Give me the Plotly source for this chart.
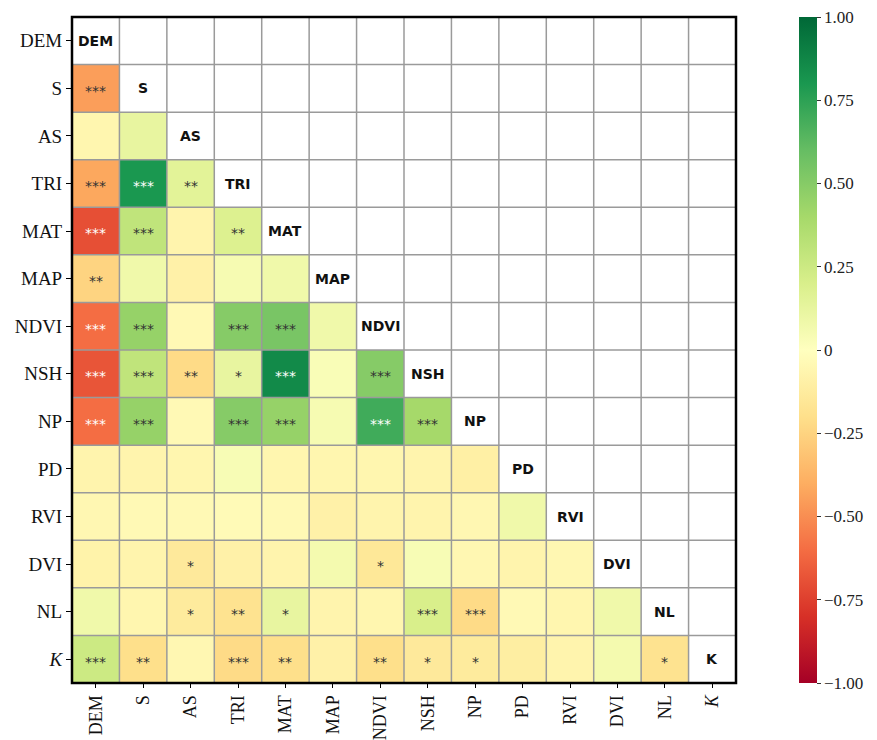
import numpy as np
import plotly.graph_objects as go

labels = ["DEM", "S", "AS", "TRI", "MAT", "MAP", "NDVI", "NSH", "NP", "PD", "RVI", "DVI", "NL", "K"]
tick_text = ["DEM", "S", "AS", "TRI", "MAT", "MAP", "NDVI", "NSH", "NP", "PD", "RVI", "DVI", "NL", "<i>K</i>"]

# Lower-triangle correlation coefficients, one row per variable (columns before the diagonal)
corr_rows = [
    [],
    [-0.45],
    [-0.06, 0.12],
    [-0.42, 0.80, 0.15],
    [-0.70, 0.30, -0.07, 0.18],
    [-0.25, 0.08, -0.09, 0.05, 0.08],
    [-0.60, 0.45, -0.04, 0.50, 0.54, 0.08],
    [-0.68, 0.30, -0.22, 0.12, 0.86, 0.03, 0.50],
    [-0.60, 0.45, -0.04, 0.50, 0.45, 0.05, 0.70, 0.40],
    [-0.07, -0.07, -0.06, 0.04, -0.06, -0.06, -0.06, -0.07, -0.10],
    [-0.05, -0.04, -0.04, -0.03, -0.04, -0.09, -0.07, -0.07, -0.05, 0.08],
    [-0.08, -0.07, -0.14, -0.09, -0.07, 0.06, -0.15, 0.04, -0.05, -0.07, -0.05],
    [0.08, -0.06, -0.13, -0.18, 0.12, -0.07, -0.06, 0.20, -0.22, -0.04, -0.06, 0.08],
    [0.25, -0.20, -0.05, -0.22, -0.20, -0.09, -0.20, -0.14, -0.13, -0.11, -0.07, 0.06, -0.18],
]

# Significance marks for the same lower-triangle cells
sig_rows = [
    [],
    ["***"],
    ["", ""],
    ["***", "***", "**"],
    ["***", "***", "", "**"],
    ["**", "", "", "", ""],
    ["***", "***", "", "***", "***", ""],
    ["***", "***", "**", "*", "***", "", "***"],
    ["***", "***", "", "***", "***", "", "***", "***"],
    ["", "", "", "", "", "", "", "", ""],
    ["", "", "", "", "", "", "", "", "", ""],
    ["", "", "*", "", "", "", "*", "", "", "", ""],
    ["", "", "*", "**", "*", "", "", "***", "***", "", "", ""],
    ["***", "**", "", "***", "**", "", "**", "*", "*", "", "", "", "*"],
]

cbar_vals = [-1, -0.75, -0.5, -0.25, 0, 0.25, 0.5, 0.75, 1]
cbar_text = ["\u22121.00", "\u22120.75", "\u22120.50", "\u22120.25", "0", "0.25", "0.50", "0.75", "1.00"]

n = len(labels)
z = np.full((n, n), np.nan)
for i, row in enumerate(corr_rows):
    for j, v in enumerate(row):
        z[i, j] = v

fig = go.Figure()
fig.add_trace(go.Heatmap(
    z=z,
    x=list(range(n)),
    y=list(range(n)),
    colorscale="RdYlGn",
    zmin=-1, zmax=1,
    hoverongaps=False,
    colorbar=dict(
        x=1.095, xanchor="left", xref="paper", xpad=0, ypad=0,
        y=0.5, yanchor="middle", len=1.0, lenmode="fraction",
        thickness=18, outlinewidth=0,
        tickvals=cbar_vals, ticktext=cbar_text,
        ticks="outside", ticklen=4, tickcolor="#333",
        tickfont=dict(family="Liberation Serif", size=17, color="#222"),
    ),
))

annotations = []
for i in range(n):
    # diagonal labels in white cells
    annotations.append(dict(
        x=i, y=i, text="<b>%s</b>" % labels[i], showarrow=False,
        font=dict(family="DejaVu Sans", size=14, color="#111"),
    ))
    for j, s in enumerate(sig_rows[i]):
        if s:
            v = corr_rows[i][j]
            annotations.append(dict(
                x=j, y=i + 0.05, text=s, showarrow=False,
                font=dict(family="DejaVu Sans", size=14,
                          color="white" if abs(v) >= 0.57 else "#333"),
            ))

shapes = []
for k in range(n + 1):
    b = k - 0.5
    shapes.append(dict(type="line", x0=b, x1=b, y0=-0.5, y1=n - 0.5,
                       line=dict(color="#9a9a9a", width=1.5), layer="above"))
    shapes.append(dict(type="line", y0=b, y1=b, x0=-0.5, x1=n - 0.5,
                       line=dict(color="#9a9a9a", width=1.5), layer="above"))
shapes.append(dict(type="rect", xref="paper", yref="paper", x0=0, x1=1, y0=0, y1=1,
                   line=dict(color="black", width=2.5), layer="above"))

fig.update_layout(
    width=877, height=740,
    margin=dict(l=72, r=141, t=17, b=57, autoexpand=False),
    plot_bgcolor="white", paper_bgcolor="white",
    annotations=annotations,
    shapes=shapes,
    xaxis=dict(
        tickvals=list(range(n)), ticktext=tick_text, tickangle=-90,
        range=[-0.5, n - 0.5], showgrid=False, zeroline=False,
        ticks="outside", ticklen=4, tickcolor="black", automargin=False,
        tickfont=dict(family="Liberation Serif", size=18, color="#111"),
    ),
    yaxis=dict(
        tickvals=list(range(n)), ticktext=tick_text,
        range=[n - 0.5, -0.5], showgrid=False, zeroline=False,
        ticks="outside", ticklen=5, tickcolor="black", automargin=False,
        tickfont=dict(family="Liberation Serif", size=19, color="#111"),
    ),
)

fig.write_html("out.html")
